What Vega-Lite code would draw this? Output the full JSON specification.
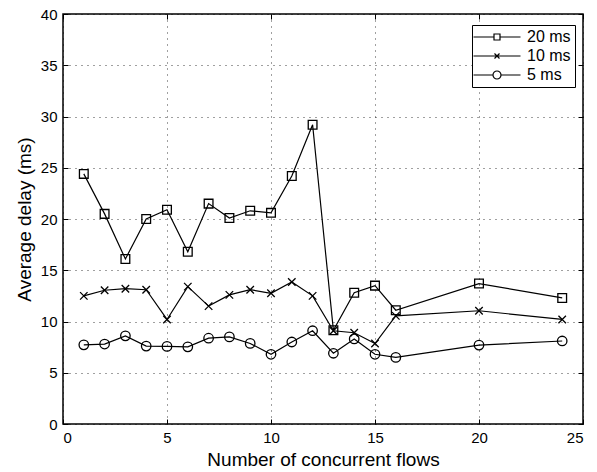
{
  "$schema": "https://vega.github.io/schema/vega-lite/v6.json",
  "width": 520,
  "height": 410,
  "autosize": {"type": "none"},
  "padding": {"left": 63, "top": 14, "right": 14, "bottom": 48},
  "background": "white",
  "config": {
    "font": "Liberation Sans",
    "view": {"stroke": "black", "strokeWidth": 1.5},
    "axis": {
      "labelFont": "Liberation Sans",
      "titleFont": "Liberation Sans",
      "labelFontSize": 15,
      "titleFontSize": 19,
      "titleFontWeight": "normal",
      "labelColor": "black",
      "titleColor": "black",
      "domain": false,
      "tickColor": "black",
      "tickSize": -5,
      "tickWidth": 1,
      "labelPadding": 11,
      "gridColor": "#000",
      "gridOpacity": 0.75,
      "gridDash": [1, 5],
      "gridWidth": 1
    },
    "legend": {
      "labelFont": "Liberation Sans",
      "labelFontSize": 16,
      "labelColor": "black"
    }
  },
  "data": {
    "values": [
      {"flows": 1, "delay": 24.4, "series": "20 ms"},
      {"flows": 2, "delay": 20.5, "series": "20 ms"},
      {"flows": 3, "delay": 16.1, "series": "20 ms"},
      {"flows": 4, "delay": 20.0, "series": "20 ms"},
      {"flows": 5, "delay": 20.9, "series": "20 ms"},
      {"flows": 6, "delay": 16.8, "series": "20 ms"},
      {"flows": 7, "delay": 21.5, "series": "20 ms"},
      {"flows": 8, "delay": 20.1, "series": "20 ms"},
      {"flows": 9, "delay": 20.8, "series": "20 ms"},
      {"flows": 10, "delay": 20.6, "series": "20 ms"},
      {"flows": 11, "delay": 24.2, "series": "20 ms"},
      {"flows": 12, "delay": 29.2, "series": "20 ms"},
      {"flows": 13, "delay": 9.15, "series": "20 ms"},
      {"flows": 14, "delay": 12.8, "series": "20 ms"},
      {"flows": 15, "delay": 13.5, "series": "20 ms"},
      {"flows": 16, "delay": 11.1, "series": "20 ms"},
      {"flows": 20, "delay": 13.7, "series": "20 ms"},
      {"flows": 24, "delay": 12.3, "series": "20 ms"},
      {"flows": 1, "delay": 12.5, "series": "10 ms"},
      {"flows": 2, "delay": 13.05, "series": "10 ms"},
      {"flows": 3, "delay": 13.2, "series": "10 ms"},
      {"flows": 4, "delay": 13.1, "series": "10 ms"},
      {"flows": 5, "delay": 10.2, "series": "10 ms"},
      {"flows": 6, "delay": 13.4, "series": "10 ms"},
      {"flows": 7, "delay": 11.5, "series": "10 ms"},
      {"flows": 8, "delay": 12.6, "series": "10 ms"},
      {"flows": 9, "delay": 13.1, "series": "10 ms"},
      {"flows": 10, "delay": 12.75, "series": "10 ms"},
      {"flows": 11, "delay": 13.85, "series": "10 ms"},
      {"flows": 12, "delay": 12.5, "series": "10 ms"},
      {"flows": 13, "delay": 9.1, "series": "10 ms"},
      {"flows": 14, "delay": 8.9, "series": "10 ms"},
      {"flows": 15, "delay": 7.85, "series": "10 ms"},
      {"flows": 16, "delay": 10.55, "series": "10 ms"},
      {"flows": 20, "delay": 11.05, "series": "10 ms"},
      {"flows": 24, "delay": 10.2, "series": "10 ms"},
      {"flows": 1, "delay": 7.72, "series": "5 ms"},
      {"flows": 2, "delay": 7.8, "series": "5 ms"},
      {"flows": 3, "delay": 8.6, "series": "5 ms"},
      {"flows": 4, "delay": 7.6, "series": "5 ms"},
      {"flows": 5, "delay": 7.57, "series": "5 ms"},
      {"flows": 6, "delay": 7.53, "series": "5 ms"},
      {"flows": 7, "delay": 8.37, "series": "5 ms"},
      {"flows": 8, "delay": 8.5, "series": "5 ms"},
      {"flows": 9, "delay": 7.86, "series": "5 ms"},
      {"flows": 10, "delay": 6.8, "series": "5 ms"},
      {"flows": 11, "delay": 8.0, "series": "5 ms"},
      {"flows": 12, "delay": 9.1, "series": "5 ms"},
      {"flows": 13, "delay": 6.9, "series": "5 ms"},
      {"flows": 14, "delay": 8.3, "series": "5 ms"},
      {"flows": 15, "delay": 6.8, "series": "5 ms"},
      {"flows": 16, "delay": 6.5, "series": "5 ms"},
      {"flows": 20, "delay": 7.7, "series": "5 ms"},
      {"flows": 24, "delay": 8.1, "series": "5 ms"}
    ]
  },
  "layer": [
    {
      "mark": {"type": "line", "strokeWidth": 1.2},
      "encoding": {
        "x": {
          "field": "flows", "type": "quantitative",
          "scale": {"domain": [0, 25], "nice": false},
          "axis": {"orient": "bottom", "title": "Number of concurrent flows", "values": [0, 5, 10, 15, 20, 25], "grid": true, "titlePadding": 5}
        },
        "y": {
          "field": "delay", "type": "quantitative",
          "scale": {"domain": [0, 40], "nice": false},
          "axis": {"orient": "left", "title": "Average delay (ms)", "values": [0, 5, 10, 15, 20, 25, 30, 35, 40], "grid": true, "titlePadding": 6}
        },
        "color": {
          "field": "series", "type": "nominal",
          "scale": {"domain": ["20 ms", "10 ms", "5 ms"], "range": ["black", "black", "black"]},
          "legend": {
            "title": null,
            "orient": "none",
            "legendX": 409,
            "legendY": 11,
            "strokeColor": "black",
            "fillColor": "white",
            "padding": 4,
            "symbolSize": 100,
            "symbolOffset": 13,
            "symbolStrokeWidth": 1.2,
            "symbolStrokeColor": "black",
            "symbolFillColor": "transparent",
            "labelOffset": 22,
            "rowPadding": 3,
            "encode": {
              "symbols": {
                "update": {
                  "shape": {"signal": "datum.value === '20 ms' ? 'M-4.7,0H-0.6M0.6,0H4.7M-0.6,-0.6H0.6V0.6H-0.6Z' : datum.value === '10 ms' ? 'M-4.7,0H4.7M-0.5,-0.5L0.5,0.5M-0.5,0.5L0.5,-0.5' : 'M-4.7,0H-0.8M0.8,0H4.7M-0.8,0A0.8,0.8 0 1,0 0.8,0A0.8,0.8 0 1,0 -0.8,0'"},
                  "fill": {"value": "transparent"},
                  "stroke": {"value": "black"},
                  "strokeWidth": {"value": 1.2}
                }
              }
            }
          }
        }
      }
    },
    {
      "transform": [{"filter": "datum.series === '20 ms'"}],
      "mark": {"type": "point", "shape": "square", "size": 76, "filled": false, "strokeWidth": 1.3, "color": "black", "opacity": 1},
      "encoding": {
        "x": {
          "field": "flows", "type": "quantitative",
          "axis": {"orient": "top", "title": null, "labels": false, "grid": false, "values": [0, 5, 10, 15, 20, 25]}
        },
        "y": {
          "field": "delay", "type": "quantitative",
          "axis": {"orient": "right", "title": null, "labels": false, "grid": false, "values": [0, 5, 10, 15, 20, 25, 30, 35, 40]}
        }
      }
    },
    {
      "transform": [{"filter": "datum.series === '10 ms'"}],
      "mark": {"type": "point", "shape": "M-1,-1L1,1M-1,1L1,-1", "size": 56, "filled": false, "strokeWidth": 1.3, "color": "black", "opacity": 1},
      "encoding": {
        "x": {"field": "flows", "type": "quantitative", "axis": null},
        "y": {"field": "delay", "type": "quantitative", "axis": null}
      }
    },
    {
      "transform": [{"filter": "datum.series === '5 ms'"}],
      "mark": {"type": "point", "shape": "circle", "size": 90, "filled": false, "strokeWidth": 1.3, "color": "black", "opacity": 1},
      "encoding": {
        "x": {"field": "flows", "type": "quantitative", "axis": null},
        "y": {"field": "delay", "type": "quantitative", "axis": null}
      }
    }
  ]
}
